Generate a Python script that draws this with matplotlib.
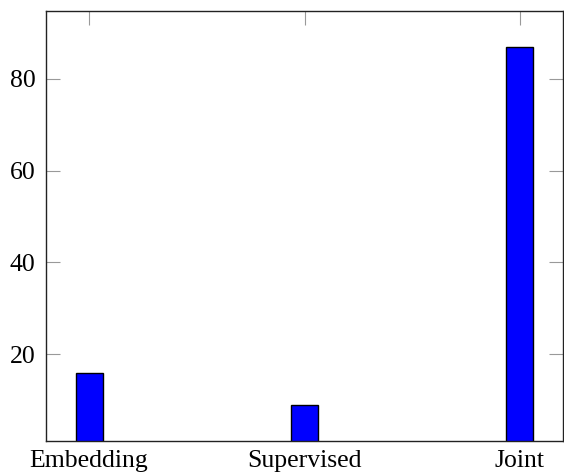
import matplotlib
matplotlib.use("Agg")
import matplotlib.pyplot as plt

# Data
categories = ["Embedding", "Supervised", "Joint"]
values = [16, 9, 87]
y_ticks = [20, 40, 60, 80]

plt.rcParams['font.family'] = ['Liberation Serif', 'DejaVu Serif']

fig = plt.figure(figsize=(5.64, 4.72), dpi=100)
ax = fig.add_axes([46 / 564, 1 - 440.5 / 472, (563 - 46) / 564, (440.5 - 11) / 472])

positions = list(range(len(categories)))
ax.bar(positions, values, width=0.125, color='#0000ff',
       edgecolor='black', linewidth=1.0, zorder=2)

ax.set_xlim(-0.2, 2.2)
ax.set_ylim(1.2, 94.8)
ax.set_xticks(positions)
ax.set_xticklabels(categories)
ax.set_yticks(y_ticks)

ax.tick_params(axis='both', direction='in', length=10, width=0.8,
               color='#999999', labelsize=18.5, top=True, right=True)
ax.tick_params(axis='y', pad=7.5)
ax.tick_params(axis='x', pad=7)

for spine in ax.spines.values():
    spine.set_linewidth(1.0)
    spine.set_color('#222222')

fig.savefig("out.png", dpi=100, facecolor='white')
